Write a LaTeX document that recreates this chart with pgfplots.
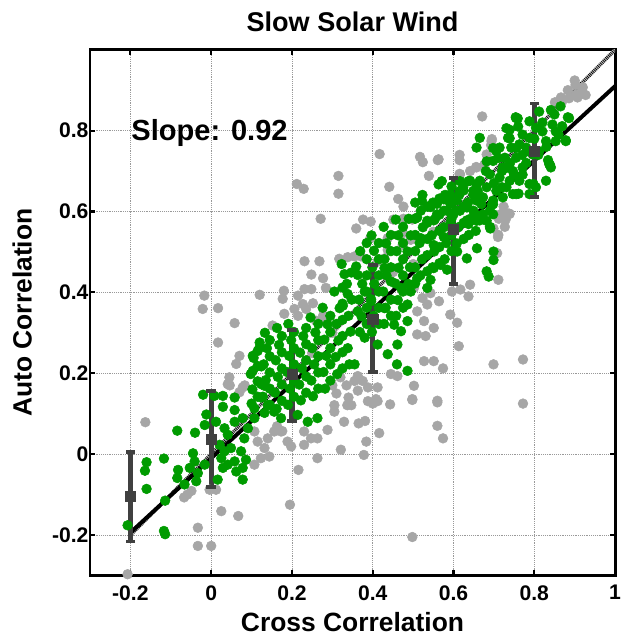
\documentclass[border=0pt]{standalone}
\usepackage{pgfplots}
\pgfplotsset{compat=1.18}
\usepackage{fontspec}
\setmainfont{Liberation Sans}
\definecolor{ptgreen}{RGB}{0,155,0}
\definecolor{ptgray}{RGB}{166,166,166}
\definecolor{ebar}{RGB}{64,64,64}
\begin{document}
\begin{tikzpicture}
\begin{axis}[
  scale only axis,
  width=397.5pt, height=398pt,
  xmin=-0.3, xmax=1, ymin=-0.3, ymax=1,
  xtick={-0.2,0,0.2,0.4,0.6,0.8,1},
  xticklabels={-0.2,0,0.2,0.4,0.6,0.8,1},
  ytick={-0.2,0,0.2,0.4,0.6,0.8},
  yticklabels={-0.2,0,0.2,0.4,0.6,0.8},
  tick align=inside,
  major tick length=4pt,
  tick style={line width=1.6pt, black},
  axis line style={line width=2.2pt},
  grid=major,
  grid style={densely dotted, gray!80, line width=0.6pt},
  ticklabel style={font=\bfseries\fontsize{16}{16}\selectfont},
  xticklabel style={yshift=-4pt, inner xsep=0pt},
  yticklabel style={inner xsep=1pt},
  title={Slow Solar Wind},
  title style={font=\bfseries\fontsize{20.5}{20.5}\selectfont, inner xsep=0pt, inner ysep=9pt, yshift=-1.6pt},
  xlabel={Cross Correlation},
  ylabel={Auto Correlation},
  xlabel shift=3pt,
  ylabel shift=4.5pt,
  label style={font=\bfseries\fontsize{20}{20}\selectfont},
  xlabel style={inner ysep=2.5pt},
  ylabel style={inner ysep=9.5pt},
  clip=true,
]
% gray points
\addplot[only marks, mark=*, mark size=3.7pt, color=ptgray, mark options={draw=ptgray, fill=ptgray}] table {
0.212 0.668
0.229 0.656
0.315 0.688
0.315 0.644
0.271 0.582
0.671 0.835
0.417 0.742
0.517 0.735
0.524 0.722
0.561 0.727
0.615 0.740
0.615 0.727
0.539 0.688
0.656 0.710
0.676 0.715
0.695 0.779
0.693 0.764
0.441 0.661
0.463 0.631
0.476 0.612
0.451 0.580
0.476 0.582
0.498 0.580
0.376 0.580
0.395 0.575
0.615 0.693
0.900 0.924
0.920 0.907
0.883 0.900
0.866 0.882
0.851 0.870
0.907 0.882
0.724 0.612
0.737 0.595
0.712 0.582
0.729 0.580
0.902 0.913
0.918 0.900
0.927 0.888
0.902 0.888
0.886 0.880
0.869 0.872
0.694 0.774
0.682 0.741
0.657 0.709
0.641 0.700
0.616 0.692
0.563 0.729
0.739 0.594
0.718 0.594
0.710 0.537
-0.017 0.392
-0.021 0.359
0.017 0.361
0.058 0.324
0.017 0.276
0.070 0.243
0.062 0.223
0.045 0.190
0.041 0.173
0.078 0.165
0.070 0.153
0.046 0.170
0.083 0.170
0.120 0.394
0.180 0.404
0.177 0.384
0.231 0.477
0.268 0.477
0.248 0.444
0.277 0.435
0.284 0.411
0.317 0.483
0.338 0.487
0.215 0.392
0.231 0.408
0.248 0.408
0.227 0.371
0.252 0.373
0.235 0.359
0.206 0.359
0.215 0.342
0.277 0.342
0.284 0.330
0.259 0.330
0.152 0.318
0.181 0.347
-0.163 0.079
-0.059 -0.100
-0.067 -0.107
-0.049 -0.091
-0.004 -0.088
0.012 -0.088
0.025 -0.141
0.067 -0.153
-0.033 -0.182
-0.033 -0.227
0.000 -0.227
-0.207 -0.297
0.195 -0.125
0.216 -0.039
0.107 0.056
0.115 0.031
0.132 0.015
0.107 -0.026
0.123 -0.010
0.144 -0.006
0.140 0.039
0.156 0.056
0.173 0.056
0.189 0.031
0.198 0.019
0.230 0.023
0.230 0.056
0.247 0.039
0.263 -0.010
0.263 0.039
0.288 0.060
0.321 0.011
0.305 0.105
0.329 0.080
0.337 0.121
0.305 0.121
0.163 0.069
0.176 0.057
0.359 0.558
0.394 0.534
0.437 0.534
0.474 0.546
0.494 0.530
0.474 0.517
0.437 0.505
0.429 0.484
0.412 0.476
0.371 0.489
0.355 0.489
0.711 0.542
0.708 0.497
0.711 0.431
0.699 0.558
0.727 0.562
0.641 0.419
0.617 0.407
0.596 0.402
0.637 0.390
0.592 0.345
0.609 0.325
0.613 0.267
0.551 0.312
0.527 0.329
0.510 0.296
0.531 0.292
0.543 0.398
0.564 0.378
0.535 0.370
0.523 0.386
0.510 0.353
0.502 0.411
0.527 0.230
0.551 0.230
0.574 0.212
0.699 0.222
0.772 0.234
0.502 0.169
0.498 0.136
0.560 0.132
0.461 0.193
0.445 0.198
0.363 0.193
0.355 0.181
0.375 0.181
0.388 0.165
0.412 0.165
0.363 0.157
0.408 0.136
0.320 0.190
0.335 0.170
0.310 0.150
0.340 0.140
0.300 0.170
0.347 0.121
0.388 0.131
0.400 0.125
0.412 0.131
0.443 0.123
0.498 0.134
0.560 0.128
0.772 0.125
0.365 0.076
0.381 0.082
0.416 0.052
0.384 0.031
0.378 -0.002
0.560 0.070
0.574 0.039
0.498 -0.205
0.450 0.450
0.500 0.470
0.600 0.600
0.650 0.650
0.300 0.300
0.250 0.250
0.550 0.550
};
% green points
\addplot[only marks, mark=*, mark size=3.7pt, color=ptgreen, mark options={draw=ptgreen, fill=ptgreen}] table {
-0.084 0.058
-0.040 0.053
-0.016 0.072
-0.012 0.098
0.029 0.117
0.058 0.109
-0.160 -0.020
-0.164 -0.041
-0.117 -0.011
-0.160 -0.086
-0.114 -0.115
-0.117 -0.190
-0.114 -0.198
-0.207 -0.176
-0.082 -0.039
-0.084 -0.059
-0.066 -0.075
-0.053 -0.034
-0.041 -0.018
-0.045 0.002
-0.033 -0.047
-0.037 -0.067
-0.016 -0.026
0.021 0.023
0.033 0.007
0.025 -0.010
0.029 -0.034
0.016 -0.063
0.041 -0.026
0.049 0.015
0.058 -0.018
0.062 -0.043
0.078 -0.063
0.078 -0.034
0.086 -0.014
0.074 0.007
0.082 0.039
0.091 0.064
0.078 0.089
0.107 0.089
0.107 0.113
0.140 0.121
0.156 0.105
0.173 0.089
0.214 0.097
0.239 0.080
0.263 0.089
0.033 0.064
0.041 0.048
0.012 0.080
0.058 0.080
-0.020 0.147
0.008 0.144
0.029 0.144
0.058 0.140
0.120 0.276
0.120 0.264
0.103 0.243
0.124 0.217
0.103 0.206
0.124 0.173
0.132 0.169
0.124 0.140
0.100 0.125
0.102 0.160
0.098 0.198
0.105 0.238
0.132 0.102
0.128 0.142
0.135 0.183
0.130 0.222
0.138 0.262
0.133 0.300
0.162 0.112
0.158 0.152
0.165 0.191
0.160 0.232
0.168 0.270
0.163 0.312
0.190 0.122
0.195 0.162
0.188 0.203
0.193 0.243
0.198 0.282
0.191 0.322
0.222 0.133
0.218 0.172
0.225 0.212
0.220 0.251
0.228 0.292
0.252 0.143
0.248 0.182
0.255 0.222
0.250 0.262
0.258 0.301
0.246 0.338
0.282 0.162
0.278 0.203
0.285 0.243
0.280 0.283
0.288 0.321
0.276 0.362
0.312 0.198
0.308 0.240
0.315 0.281
0.310 0.322
0.318 0.361
0.305 0.402
0.342 0.222
0.338 0.262
0.345 0.303
0.340 0.342
0.348 0.382
0.336 0.421
0.115 0.142
0.115 0.180
0.115 0.218
0.115 0.255
0.145 0.122
0.145 0.162
0.145 0.202
0.145 0.242
0.145 0.282
0.175 0.132
0.175 0.172
0.175 0.212
0.175 0.252
0.175 0.292
0.205 0.142
0.205 0.182
0.205 0.222
0.205 0.262
0.205 0.302
0.235 0.152
0.235 0.192
0.235 0.232
0.235 0.272
0.235 0.312
0.265 0.162
0.265 0.202
0.265 0.242
0.265 0.282
0.265 0.322
0.295 0.182
0.295 0.222
0.295 0.262
0.295 0.302
0.295 0.342
0.325 0.212
0.325 0.252
0.325 0.292
0.325 0.332
0.325 0.372
0.325 0.412
0.323 0.470
0.330 0.445
0.347 0.449
0.326 0.367
0.338 0.396
0.355 0.222
0.380 0.288
0.412 0.271
0.437 0.247
0.461 0.271
0.460 0.222
0.486 0.206
0.470 0.304
0.486 0.329
0.486 0.370
0.494 0.402
0.470 0.411
0.445 0.427
0.429 0.460
0.359 0.464
0.363 0.443
0.380 0.402
0.453 0.320
0.429 0.361
0.396 0.378
0.363 0.353
0.519 0.534
0.551 0.517
0.543 0.431
0.535 0.411
0.510 0.435
0.551 0.460
0.568 0.468
0.584 0.456
0.609 0.501
0.633 0.484
0.658 0.509
0.691 0.558
0.699 0.501
0.699 0.480
0.682 0.452
0.687 0.439
0.368 0.302
0.372 0.341
0.366 0.382
0.374 0.421
0.369 0.502
0.398 0.302
0.402 0.342
0.396 0.383
0.404 0.421
0.399 0.462
0.403 0.503
0.397 0.541
0.428 0.322
0.432 0.362
0.426 0.402
0.434 0.442
0.429 0.482
0.433 0.521
0.427 0.562
0.458 0.342
0.462 0.381
0.456 0.422
0.464 0.461
0.459 0.502
0.463 0.541
0.457 0.580
0.488 0.421
0.492 0.462
0.486 0.501
0.494 0.541
0.489 0.582
0.518 0.442
0.522 0.482
0.516 0.522
0.524 0.561
0.519 0.602
0.523 0.641
0.548 0.462
0.552 0.501
0.546 0.541
0.554 0.581
0.549 0.622
0.578 0.482
0.582 0.522
0.576 0.561
0.584 0.602
0.579 0.641
0.608 0.521
0.612 0.561
0.606 0.602
0.614 0.641
0.638 0.542
0.642 0.582
0.636 0.622
0.385 0.322
0.385 0.362
0.385 0.402
0.385 0.442
0.385 0.482
0.385 0.522
0.415 0.322
0.415 0.362
0.415 0.402
0.415 0.442
0.415 0.482
0.415 0.522
0.445 0.342
0.445 0.382
0.445 0.462
0.445 0.502
0.445 0.542
0.475 0.362
0.475 0.402
0.475 0.442
0.475 0.482
0.475 0.522
0.475 0.562
0.505 0.422
0.505 0.462
0.505 0.502
0.505 0.542
0.505 0.582
0.505 0.622
0.535 0.452
0.535 0.492
0.535 0.532
0.535 0.572
0.535 0.612
0.565 0.472
0.565 0.512
0.565 0.552
0.565 0.592
0.565 0.632
0.595 0.502
0.595 0.542
0.595 0.582
0.595 0.622
0.595 0.662
0.625 0.532
0.625 0.572
0.625 0.612
0.625 0.652
0.655 0.552
0.655 0.592
0.655 0.632
0.522 0.626
0.543 0.614
0.563 0.667
0.576 0.630
0.571 0.675
0.510 0.585
0.535 0.577
0.559 0.593
0.616 0.675
0.637 0.675
0.657 0.667
0.616 0.651
0.649 0.642
0.600 0.593
0.633 0.610
0.669 0.618
0.698 0.618
0.698 0.593
0.673 0.593
0.698 0.757
0.710 0.732
0.731 0.806
0.739 0.781
0.755 0.757
0.759 0.830
0.731 0.708
0.771 0.691
0.682 0.724
0.592 0.642
0.657 0.577
0.682 0.577
0.637 0.569
0.755 0.831
0.788 0.823
0.812 0.847
0.841 0.851
0.865 0.860
0.886 0.831
0.869 0.811
0.845 0.815
0.820 0.798
0.804 0.807
0.788 0.782
0.771 0.790
0.739 0.802
0.735 0.782
0.714 0.758
0.743 0.758
0.763 0.766
0.780 0.758
0.755 0.733
0.727 0.733
0.706 0.749
0.698 0.725
0.722 0.709
0.747 0.700
0.771 0.709
0.763 0.676
0.739 0.676
0.714 0.684
0.690 0.692
0.665 0.676
0.641 0.676
0.624 0.660
0.649 0.651
0.682 0.660
0.706 0.651
0.731 0.660
0.747 0.643
0.722 0.635
0.698 0.627
0.673 0.635
0.657 0.627
0.633 0.619
0.608 0.627
0.592 0.619
0.576 0.635
0.559 0.619
0.576 0.602
0.616 0.602
0.649 0.602
0.690 0.602
0.690 0.562
0.665 0.578
0.633 0.578
0.592 0.570
0.551 0.578
0.543 0.611
0.788 0.668
0.837 0.717
0.841 0.709
0.878 0.774
0.784 0.749
0.796 0.741
0.812 0.749
0.829 0.774
0.853 0.774
0.665 0.782
0.657 0.758
0.755 0.643
0.788 0.643
0.804 0.660
0.829 0.676
0.853 0.798
0.576 0.537
0.754 0.833
0.834 0.727
0.839 0.715
0.878 0.776
0.883 0.833
0.695 0.617
0.761 0.644
0.798 0.668
0.720 0.660
0.750 0.690
0.780 0.720
0.810 0.740
0.830 0.760
0.860 0.790
0.800 0.780
0.770 0.740
0.720 0.700
0.680 0.700
0.700 0.670
0.660 0.650
0.740 0.720
0.760 0.810
0.820 0.820
0.850 0.840
};
% y = x reference line
\addplot[color=gray!55, line width=2.6pt] coordinates {(-0.2,-0.2) (1,1)};
\addplot[color=black, line width=2.6pt, dash pattern=on 0.5pt off 0.9pt] coordinates {(-0.2,-0.2) (1,1)};
% fit line
\addplot[color=black, line width=3pt] coordinates {(-0.2,-0.194) (1,0.91)};
% binned means with error bars
\addplot[color=ebar, line width=4pt, unbounded coords=jump, mark=none] coordinates {
(-0.2,-0.216) (-0.2,0.006) (nan,nan)
(0,-0.081) (0,0.157) (nan,nan)
(0.2,0.082) (0.2,0.308) (nan,nan)
(0.4,0.203) (0.4,0.468) (nan,nan)
(0.6,0.420) (0.6,0.683) (nan,nan)
(0.8,0.635) (0.8,0.867)
};
\addplot[color=ebar, only marks, mark=-, mark size=3.6pt, mark options={line width=3pt}] coordinates {
(-0.2,-0.216) (-0.2,0.006)
(0,-0.081) (0,0.157)
(0.2,0.082) (0.2,0.308)
(0.4,0.203) (0.4,0.468)
(0.6,0.420) (0.6,0.683)
(0.8,0.635) (0.8,0.867)
};
\addplot[color=ebar, only marks, mark=square*, mark size=3.8pt, mark options={fill=ebar, draw=ebar}] coordinates {
(-0.2,-0.105) (0,0.036) (0.2,0.198) (0.4,0.334) (0.6,0.555) (0.8,0.749)
};
\node[anchor=base west, inner sep=0pt, font=\bfseries\fontsize{22}{22}\selectfont] at (axis cs:-0.198,0.775) {Slope: 0.92};
\end{axis}
\end{tikzpicture}
\end{document}
